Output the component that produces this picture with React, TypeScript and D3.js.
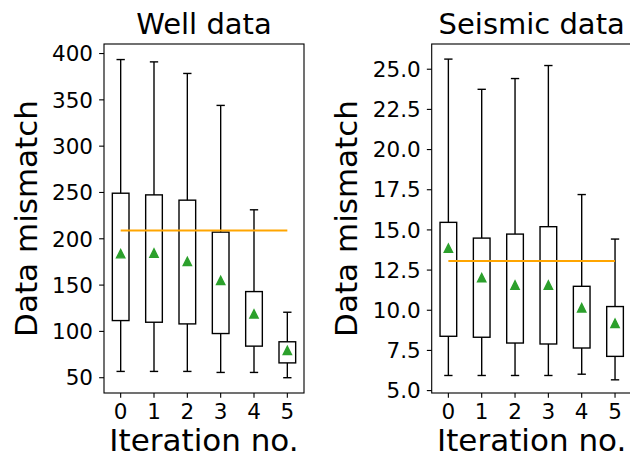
import React from "react";
import * as d3 from "d3";

const iterations = [0, 1, 2, 3, 4, 5];

// Well data (left panel)
const wellWhiskerHigh = [393.5, 391, 378.5, 344, 231.3, 120.7];
const wellQ3 = [249.2, 247.4, 241.7, 207.2, 143, 88.8];
const wellQ1 = [111.7, 109.9, 108.1, 97.7, 84.1, 66];
const wellWhiskerLow = [56.8, 56.8, 56.8, 55.7, 55.7, 50];
const wellMean = [183.9, 184.6, 175.6, 155, 118.9, 79.4];
const wellReference = 209;
const wellTicks = [50, 100, 150, 200, 250, 300, 350, 400];

// Seismic data (right panel)
const seisWhiskerHigh = [25.63, 23.75, 24.42, 25.23, 17.2, 14.43];
const seisQ3 = [15.47, 14.49, 14.74, 15.2, 11.49, 10.23];
const seisQ1 = [8.38, 8.32, 7.96, 7.9, 7.65, 7.13];
const seisWhiskerLow = [5.94, 5.94, 5.94, 5.94, 6.02, 5.67];
const seisMean = [13.86, 12.03, 11.57, 11.57, 10.15, 9.19];
const seisReference = 13.07;
const seisTicks = [5, 7.5, 10, 12.5, 15, 17.5, 20, 22.5, 25];

const FONT = "DejaVu Sans";
const TICK_FS = 21.5;
const LABEL_FS = 31;
const TITLE_FS = 29;
const LW = 1.39;

type PanelProps = {
  left: number;
  title: string;
  yDomain: [number, number];
  high: number[];
  q3: number[];
  q1: number[];
  low: number[];
  mean: number[];
  reference: number;
  ticks: number[];
  fmt: (v: number) => string;
  ylabelX: number;
};

function Panel(p: PanelProps) {
  const top = 44;
  const bottom = 393;
  const width = 200;
  const x = d3.scaleLinear().domain([-0.5, 5.5]).range([p.left, p.left + width]);
  const y = d3.scaleLinear().domain(p.yDomain).range([bottom, top]);
  const boxHalf = x(0.25) - x(0);
  const capHalf = x(0.125) - x(0);
  const tri = 4.17;
  return (
    <g>
      {iterations.map((it, i) => {
        const cx = x(it);
        return (
          <g key={i} stroke="#000" strokeWidth={LW} fill="none">
            <line x1={cx} x2={cx} y1={y(p.q3[i])} y2={y(p.high[i])} />
            <line x1={cx} x2={cx} y1={y(p.q1[i])} y2={y(p.low[i])} />
            <line x1={cx - capHalf} x2={cx + capHalf} y1={y(p.high[i])} y2={y(p.high[i])} />
            <line x1={cx - capHalf} x2={cx + capHalf} y1={y(p.low[i])} y2={y(p.low[i])} />
            <rect x={cx - boxHalf} y={y(p.q3[i])} width={boxHalf * 2} height={y(p.q1[i]) - y(p.q3[i])} />
          </g>
        );
      })}
      <line x1={x(0)} x2={x(5)} y1={y(p.reference)} y2={y(p.reference)} stroke="#FFA500" strokeWidth={2.08} />
      {iterations.map((it, i) => {
        const cx = x(it);
        const cy = y(p.mean[i]);
        return (
          <path key={"m" + i}
            d={`M${cx},${cy - tri}L${cx - tri},${cy + tri}L${cx + tri},${cy + tri}Z`}
            fill="#2ca02c" stroke="#2ca02c" strokeWidth={1.39} />
        );
      })}
      <rect x={p.left} y={top} width={width} height={bottom - top} fill="none" stroke="#000" strokeWidth={1.11} />
      {p.ticks.map((t) => (
        <g key={"y" + t}>
          <line x1={p.left - 4.86} x2={p.left} y1={y(t)} y2={y(t)} stroke="#000" strokeWidth={1.11} />
          <text x={p.left - 11} y={y(t)} dy="0.36em" textAnchor="end"
            fontFamily={FONT} fontSize={TICK_FS} fill="#000">{p.fmt(t)}</text>
        </g>
      ))}
      {iterations.map((it) => (
        <g key={"x" + it}>
          <line x1={x(it)} x2={x(it)} y1={bottom} y2={bottom + 4.86} stroke="#000" strokeWidth={1.11} />
          <text x={x(it)} y={419} textAnchor="middle" fontFamily={FONT} fontSize={TICK_FS} fill="#000">{it}</text>
        </g>
      ))}
      <text x={p.left + width / 2} y={451} textAnchor="middle" fontFamily={FONT} fontSize={LABEL_FS} fill="#000">Iteration no.</text>
      <text x={p.left + width / 2} y={34} textAnchor="middle" fontFamily={FONT} fontSize={TITLE_FS} fill="#000">{p.title}</text>
      <text transform={`translate(${p.ylabelX},${(top + bottom) / 2}) rotate(-90)`} textAnchor="middle"
        fontFamily={FONT} fontSize={LABEL_FS} fill="#000">Data mismatch</text>
    </g>
  );
}

export default function App() {
  return (
    <div style={{ position: "absolute", left: 0, top: 0 }}>
      <svg width={630} height={461} style={{ display: "block", background: "#fff" }}>
        <rect width={630} height={461} fill="#fff" />
        <Panel left={104} title="Well data" yDomain={[33.5, 410.3]}
          high={wellWhiskerHigh} q3={wellQ3} q1={wellQ1} low={wellWhiskerLow} mean={wellMean}
          reference={wellReference} ticks={wellTicks} fmt={(v) => String(v)} ylabelX={37} />
        <Panel left={431.7} title="Seismic data" yDomain={[4.85, 26.57]}
          high={seisWhiskerHigh} q3={seisQ3} q1={seisQ1} low={seisWhiskerLow} mean={seisMean}
          reference={seisReference} ticks={seisTicks} fmt={(v) => v.toFixed(1)} ylabelX={357} />
      </svg>
    </div>
  );
}
